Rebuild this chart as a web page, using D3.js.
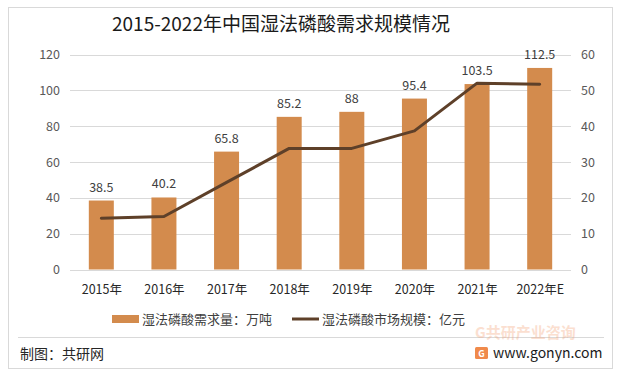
<!DOCTYPE html>
<html><head><meta charset="utf-8">
<script src="https://cdn.jsdelivr.net/npm/d3@7/dist/d3.min.js"></script>
<style>
html,body{margin:0;padding:0;background:#fff;}
text{font-family:"Noto Sans CJK SC","Noto Sans",sans-serif;}
</style></head>
<body>
<svg id="c" width="621" height="380"></svg>
<script>
const categories = ["2015年","2016年","2017年","2018年","2019年","2020年","2021年","2022年E"];
const demand = [38.5, 40.2, 65.8, 85.2, 88, 95.4, 103.5, 112.5];
const marketSize = [14.3, 14.8, 24.3, 33.8, 33.8, 38.7, 52.0, 51.7];
const leftTicks = [0, 20, 40, 60, 80, 100, 120];
const rightTicks = [0, 10, 20, 30, 40, 50, 60];
const title = "2015-2022年中国湿法磷酸需求规模情况";
const seriesNames = ["湿法磷酸需求量：万吨", "湿法磷酸市场规模：亿元"];

const svg = d3.select("#c");
const barColor = "#D38B4D", lineColor = "#5E4029";

svg.append("rect").attr("x",8.5).attr("y",7.5).attr("width",604).attr("height",361)
  .attr("fill","#fff").attr("stroke","#d9d9d9");

svg.append("text").attr("x",112).attr("y",31).attr("font-size",19).attr("fill","#1a1a1a").text(title);

const xc = d3.scalePoint().domain(categories).range([70,571]).padding(0.5);
const yL = d3.scaleLinear().domain([0,120]).range([269.5,54.5]);
const yR = d3.scaleLinear().domain([0,60]).range([269.5,54.5]);

// gridlines
svg.append("g").selectAll("line").data(leftTicks).join("line")
  .attr("x1",70).attr("x2",571).attr("y1",d=>Math.round(yL(d))+0.5).attr("y2",d=>Math.round(yL(d))+0.5)
  .attr("stroke","#d9d9d9").attr("stroke-width",1);

// left axis
const axL = svg.append("g").attr("transform","translate(70,0)")
  .call(d3.axisLeft(yL).tickValues(leftTicks).tickSize(0).tickPadding(10));
axL.select(".domain").remove();
axL.selectAll("text").attr("font-size",12.5).attr("fill","#595959").attr("font-family",'"Noto Sans CJK SC",sans-serif');

// right axis
const axR = svg.append("g").attr("transform","translate(571,0)")
  .call(d3.axisRight(yR).tickValues(rightTicks).tickSize(0).tickPadding(10));
axR.select(".domain").remove();
axR.selectAll("text").attr("font-size",12.5).attr("fill","#595959").attr("font-family",'"Noto Sans CJK SC",sans-serif');

// bottom axis
const axB = svg.append("g").attr("transform","translate(0,270)")
  .call(d3.axisBottom(xc).tickSize(0).tickPadding(15));
axB.select(".domain").remove();
axB.selectAll("text").attr("font-size",12.5).attr("fill","#262626").attr("font-family",'"Noto Sans CJK SC",sans-serif');

// bars
const bw = 25;
svg.append("g").selectAll("rect").data(categories).join("rect")
  .attr("x",(d)=>xc(d)-bw/2).attr("width",bw)
  .attr("y",(d,i)=>yL(demand[i])).attr("height",(d,i)=>yL(0)-yL(demand[i]))
  .attr("fill",barColor);

// bar labels
svg.append("g").selectAll("text").data(categories).join("text")
  .attr("x",d=>xc(d)).attr("y",(d,i)=>yL(demand[i])-9)
  .attr("text-anchor","middle").attr("font-size",12.5).attr("fill","#404040")
  .text((d,i)=>demand[i]);

// line
const line = d3.line().x((d,i)=>xc(categories[i])).y(d=>yR(d));
svg.append("path").datum(marketSize).attr("d",line)
  .attr("fill","none").attr("stroke",lineColor).attr("stroke-width",3).attr("stroke-linejoin","round").attr("stroke-linecap","round");

// legend
const lg = svg.append("g");
lg.append("rect").attr("x",112).attr("y",315).attr("width",27).attr("height",8).attr("fill",barColor);
lg.append("text").attr("x",142).attr("y",323.5).attr("font-size",13).attr("fill","#404040").text(seriesNames[0]);
lg.append("line").attr("x1",292).attr("x2",319).attr("y1",319).attr("y2",319).attr("stroke",lineColor).attr("stroke-width",3);
lg.append("text").attr("x",322).attr("y",323.5).attr("font-size",13).attr("fill","#404040").text(seriesNames[1]);

// footer
svg.append("line").attr("x1",18).attr("x2",604).attr("y1",337.5).attr("y2",337.5).attr("stroke","#d9d9d9");
svg.append("text").attr("x",20).attr("y",359).attr("font-size",14).attr("fill","#262626").text("制图：共研网");
svg.append("text").attr("x",475).attr("y",338).attr("font-size",15).attr("font-weight","bold").attr("fill","#f4a67c").attr("opacity",0.35).text("G共研产业咨询");
const logo = svg.append("g");
logo.append("rect").attr("x",475).attr("y",347).attr("width",13).attr("height",12).attr("rx",1.5).attr("fill","#f08a4b");
logo.append("text").attr("x",481.5).attr("y",357).attr("text-anchor","middle").attr("font-size",9).attr("font-weight","bold").attr("fill","#fff").text("G");
svg.append("text").attr("x",493).attr("y",358).attr("font-size",14).attr("fill","#1a1a1a").attr("font-family","'Liberation Sans',Arial,sans-serif").text("www.gonyn.com");
</script>
</body></html>
